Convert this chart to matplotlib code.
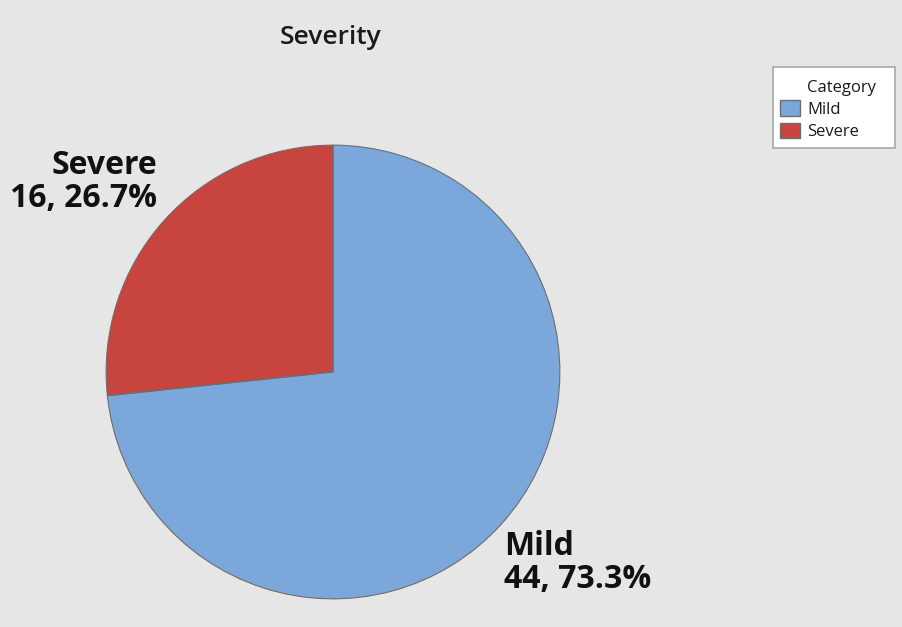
import matplotlib
matplotlib.use("Agg")
import matplotlib.pyplot as plt
from matplotlib.patches import Patch, Rectangle

categories = ["Mild", "Severe"]
counts = [44, 16]
colors = ["#7BA7DB", "#C8443F"]
title = "Severity"
legend_title = "Category"

plt.rcParams['font.family'] = ['Open Sans', 'DejaVu Sans']

W, H = 903, 627
fig = plt.figure(figsize=(W/100, H/100), dpi=100, facecolor="#E6E6E6")

cx, cy, r = 333, 372, 228
ax = fig.add_axes([(cx - r)/W, (H - cy - r)/H, 2*r/W, 2*r/H])
ax.set_facecolor("#E6E6E6")
wedges, _ = ax.pie(counts, colors=colors, startangle=90, counterclock=False,
                   radius=1, wedgeprops=dict(edgecolor="#6E6E6E", linewidth=0.8))
ax.set_xlim(-1.005, 1.005)
ax.set_ylim(-1.005, 1.005)
ax.set_aspect('equal')
ax.axis('off')

total = sum(counts)
labels = [f"{c}\n{n}, {n/total*100:.1f}%" for c, n in zip(categories, counts)]

fig.text(504/W, 1 - 530/H, labels[0], ha='left', va='top', fontsize=23,
         fontweight='bold', color='#111111', linespacing=1.02)
fig.text(157/W, 1 - 149/H, labels[1], ha='right', va='top', fontsize=23,
         fontweight='bold', color='#111111', linespacing=1.0)

fig.text(331/W, 1 - 37/H, title, ha='center', va='center', fontsize=19,
         fontweight='semibold', color='#1A1A1A')

# legend
fig.patches.append(Rectangle((773/W, 1 - 148/H), (895 - 773)/W, (148 - 67)/H,
                             transform=fig.transFigure, facecolor='white',
                             edgecolor='#A8A8A8', linewidth=1.2, zorder=0))
fig.text(807/W, 1 - 88/H, legend_title, ha='left', va='center', fontsize=12,
         color='#1A1A1A')
handles = [Patch(facecolor=c, edgecolor='#6E6E6E', label=l) for c, l in zip(colors, categories)]
leg = fig.legend(handles=handles, loc='upper left',
                 bbox_to_anchor=(780/W, 1 - 100/H), fontsize=12,
                 frameon=False, borderpad=0, borderaxespad=0,
                 handlelength=1.2, handleheight=1.08, handletextpad=0.45,
                 labelspacing=0.3)
for t in leg.get_texts():
    t.set_color('#1A1A1A')

fig.savefig("out.png", dpi=100, facecolor=fig.get_facecolor())
